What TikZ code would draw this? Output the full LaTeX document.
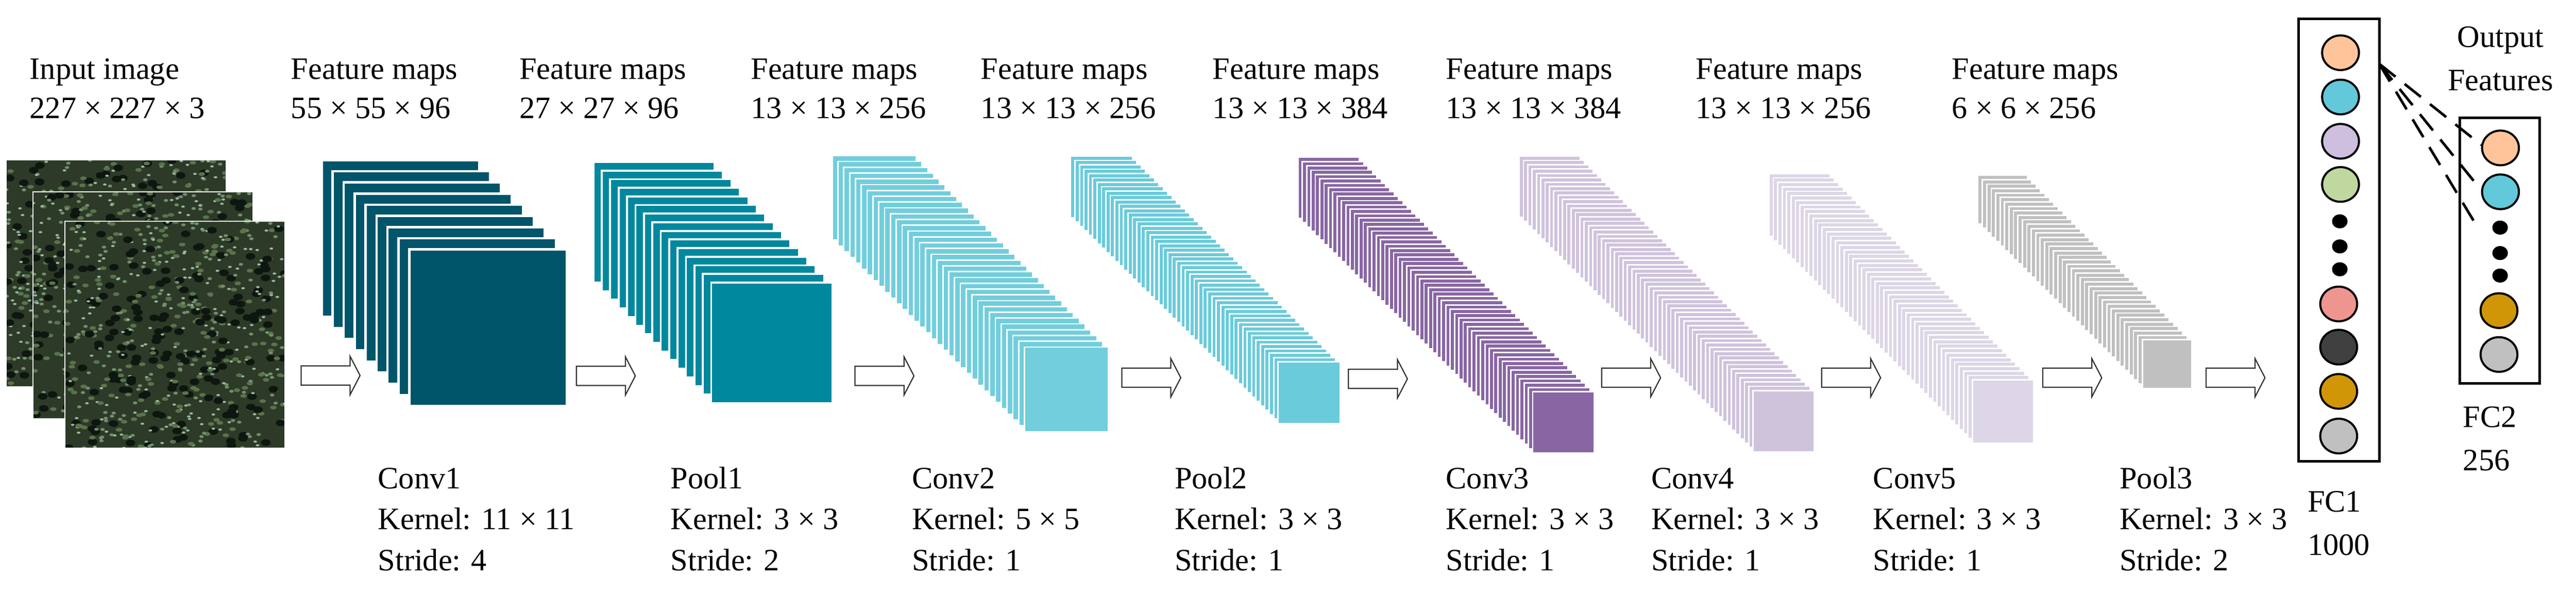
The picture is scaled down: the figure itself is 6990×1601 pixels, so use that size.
\documentclass[tikz,border=0pt]{standalone}
\usepackage{fontspec}
\setmainfont{Liberation Serif}
\begin{document}
\begin{tikzpicture}[x=0.01cm,y=-0.01cm,
  lbl/.style={anchor=base west,inner sep=0pt,font=\fontsize{24}{28}\selectfont},
  arr/.style={draw=black!80,line width=0.9pt,fill=white,line join=miter},
  box/.style={draw=black,line width=2pt},
  neur/.style={draw=black,line width=1.6pt},
  dotn/.style={fill=black}]
\useasboundingbox (0,0) rectangle (6990,1601);
\definecolor{cA}{RGB}{0,85,106}
\definecolor{cB}{RGB}{0,136,158}
\definecolor{cC}{RGB}{114,206,220}
\definecolor{cD}{RGB}{106,203,218}
\definecolor{cE}{RGB}{136,102,163}
\definecolor{cF}{RGB}{207,195,220}
\definecolor{cG}{RGB}{221,214,230}
\definecolor{cH}{RGB}{192,192,192}
\definecolor{gA}{RGB}{45,58,40}
\definecolor{gB}{RGB}{90,115,75}
\definecolor{gC}{RGB}{150,185,160}
\definecolor{gD}{RGB}{14,22,16}
\definecolor{pe}{RGB}{255,196,154}
\definecolor{cy}{RGB}{98,200,218}
\definecolor{la}{RGB}{205,191,221}
\definecolor{gr}{RGB}{191,216,159}
\definecolor{pk}{RGB}{238,149,144}
\definecolor{dk}{RGB}{64,64,64}
\definecolor{go}{RGB}{208,150,8}
\definecolor{gy}{RGB}{192,192,192}
% ---- input images
\pgfmathsetseed{7}
\foreach \x/\y in {17/434,90/520,176/600}{
  \begin{scope}
    \clip (\x,\y) rectangle +(597,615);
    \fill[gA] (\x,\y) rectangle +(597,615);
    \foreach \k in {1,...,700}{
      \pgfmathsetmacro\px{\x+597*rnd}
      \pgfmathsetmacro\py{\y+615*rnd}
      \pgfmathsetmacro\r{int(4*rnd)}
      \ifcase\r\relax
        \fill[gB] (\px,\py) ellipse (9 and 5);
      \or
        \fill[gC] (\px,\py) ellipse (5 and 3);
      \or
        \fill[gD] (\px,\py) ellipse (13 and 9);
      \else
        \fill[gB!60!gC] (\px,\py) ellipse (6 and 4);
      \fi
    }
  \end{scope}
  \draw[white,line width=0.8pt] (\x,\y) rectangle +(597,615);
}
% ---- stacks
\newcommand\fmstack[9]{% x0 y0 x1 y1 w h n color gap
  \pgfmathtruncatemacro\nn{#7-1}
  \pgfmathsetmacro\ddx{(#3-#1)/\nn}
  \pgfmathsetmacro\ddy{(#4-#2)/\nn}
  \foreach \i in {0,...,\nn}{
    \pgfmathsetmacro\sx{#1+\ddx*\i}
    \pgfmathsetmacro\sy{#2+\ddy*\i}
    \path[fill=#8,draw=white,line width=#9] (\sx,\sy) rectangle +(#5,#6);
  }
}
\fmstack{873}{434}{1111}{676}{427}{425}{9}{cA}{1.8pt}
\fmstack{1610}{439}{1930}{766}{329}{327}{15}{cB}{1.5pt}
\fmstack{2258}{422}{2780}{941}{228}{229}{34}{cC}{1.1pt}
\fmstack{2905}{423}{3468}{981}{168}{167}{48}{cD}{1.1pt}
\fmstack{3522}{426}{4159}{1062}{167}{166}{55}{cE}{1.1pt}
\fmstack{4122}{423}{4757}{1059}{166}{166}{55}{cF}{1.1pt}
\fmstack{4800}{470}{5352}{1030}{166}{171}{47}{cG}{1.1pt}
\fmstack{5367}{475}{5813}{921}{134}{132}{38}{cH}{1.1pt}
% ---- arrows
\foreach \ax/\ay in {817/1018,1564/1019,2320/1019,3044/1024,3659/1027,4346/1024,4943/1024,5543/1024,5986/1024}{
  \draw[arr] (\ax,\ay-26) -- ++(133,0) -- ++(0,-26) -- (\ax+160,\ay) -- (\ax+133,\ay+52) -- ++(0,-26) -- (\ax,\ay+26) -- cycle;
}
% ---- top labels
\node[lbl] (t0a) at (80,214) {Input image};
\node[lbl] (t0b) at (80,321) {227 × 227 × 3};
\foreach \n/\x/\s in {1/789/55 × 55 × 96,2/1409/27 × 27 × 96,3/2037/13 × 13 × 256,4/2661/13 × 13 × 256,5/3290/13 × 13 × 384,6/3923/13 × 13 × 384,7/4601/13 × 13 × 256,8/5296/6 × 6 × 256}{
  \node[lbl] (t\n a) at (\x,214) {Feature maps};
  \node[lbl] (t\n b) at (\x,321) {\s};
}
% ---- bottom labels
\foreach \n/\x/\nm/\k/\st in {1/1025/Conv1/11 × 11/4,2/1819/Pool1/3 × 3/2,3/2474/Conv2/5 × 5/1,4/3187/Pool2/3 × 3/1,5/3923/Conv3/3 × 3/1,6/4480/Conv4/3 × 3/1,7/5082/Conv5/3 × 3/1,8/5751/Pool3/3 × 3/2}{
  \node[lbl] (b\n a) at (\x,1324) {\nm};
  \node[lbl] (b\n b) at (\x,1435) {Kernel: \k};
  \node[lbl] (b\n c) at (\x,1547) {Stride: \st};
}
% ---- FC1
\draw[box] (6237,51) rectangle (6456,1250);
\foreach \c/\yy/\xx/\nm in {pe/143/6351/a1,cy/263/6351/a2,la/383/6351/a3,gr/500/6351/a4,pk/824/6346/a5,dk/941/6346/a6,go/1061/6346/a7,gy/1182/6346/a8}{
  \draw[neur,fill=\c] (\xx,\yy) ellipse (50 and 47);
}
\foreach \yy in {600,668,730}{\fill (6349,\yy) ellipse (21 and 19);}
\node[lbl] (fc1a) at (6261,1388) {FC1};
\node[lbl] (fc1b) at (6261,1505) {1000};
% ---- FC2
\draw[box] (6674,319) rectangle (6892,1039);
\foreach \c/\yy/\xx in {pe/401/6785,cy/520/6785,go/842/6781,gy/961/6781}{
  \draw[neur,fill=\c] (\xx,\yy) ellipse (50 and 47);
}
\foreach \yy in {617,686,747}{\fill (6784,\yy) ellipse (21 and 19);}
\node[lbl] (fc2a) at (6683,1158) {FC2};
\node[lbl] (fc2b) at (6683,1276) {256};
\node[anchor=base,inner sep=0pt,font=\fontsize{24}{28}\selectfont] (of1) at (6785,128) {Output};
\node[anchor=base,inner sep=0pt,font=\fontsize{24}{28}\selectfont] (of2) at (6785,245) {Features};
% ---- dashed connections
\coordinate (corner) at (6456,173);
\foreach \ex/\ey in {6733/393,6712/490,6722/615}{
  \draw[line width=2pt,dash pattern=on 16pt off 9pt] (corner) -- (\ex,\ey);
}
\end{tikzpicture}
\end{document}
